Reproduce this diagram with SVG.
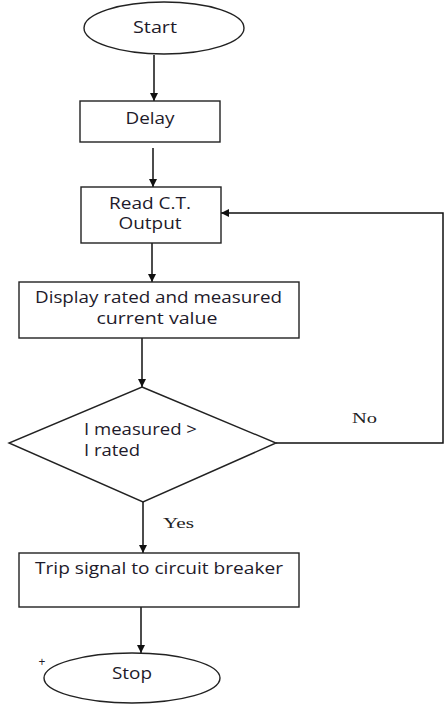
<svg xmlns="http://www.w3.org/2000/svg" width="447" height="704" viewBox="0 0 447 704">
<style>
.shape{fill:#fff;stroke:#222;stroke-width:1.4}
.conn{fill:none;stroke:#111;stroke-width:1.5}
.t{font-family:"Open Sans","Liberation Sans",sans-serif;font-size:16px;fill:#1e1a2a}
.s{font-family:"Liberation Serif",serif;font-size:15px;fill:#222}
</style>
<defs>
<marker id="ah" viewBox="0 0 10 10" refX="10" refY="5" markerWidth="8" markerHeight="8" markerUnits="userSpaceOnUse" orient="auto">
<path d="M0,0 L10,5 L0,10 z" fill="#111"/>
</marker>
</defs>
<rect width="447" height="704" fill="#fff"/>
<g id="connectors">
<line class="conn" x1="154" y1="55" x2="154" y2="101" marker-end="url(#ah)"/>
<line class="conn" x1="153" y1="148" x2="153" y2="187" marker-end="url(#ah)"/>
<line class="conn" x1="152" y1="243" x2="152" y2="282" marker-end="url(#ah)"/>
<line class="conn" x1="142" y1="338" x2="142" y2="387" marker-end="url(#ah)"/>
<line class="conn" x1="143" y1="502" x2="143" y2="553" marker-end="url(#ah)"/>
<line class="conn" x1="141" y1="607" x2="141" y2="653" marker-end="url(#ah)"/>
<polyline class="conn" points="276,443 443,443 443,213 221,213" marker-end="url(#ah)"/>
<text class="s" x="352" y="423" textLength="25" lengthAdjust="spacingAndGlyphs">No</text>
<text class="s" x="163" y="528" textLength="31" lengthAdjust="spacingAndGlyphs">Yes</text>
</g>
<g id="start">
<ellipse class="shape" cx="164" cy="28" rx="80" ry="26"/>
<text class="t" x="155" y="33" text-anchor="middle" textLength="44" lengthAdjust="spacingAndGlyphs">Start</text>
</g>
<g id="delay">
<rect class="shape" x="80" y="101" width="140" height="41"/>
<text class="t" x="150" y="124" text-anchor="middle" textLength="49" lengthAdjust="spacingAndGlyphs">Delay</text>
</g>
<g id="read">
<rect class="shape" x="81" y="187" width="140" height="56"/>
<text class="t" x="150" y="209" text-anchor="middle" textLength="82" lengthAdjust="spacingAndGlyphs">Read C.T.</text>
<text class="t" x="150" y="229" text-anchor="middle" textLength="63" lengthAdjust="spacingAndGlyphs">Output</text>
</g>
<g id="display">
<rect class="shape" x="19" y="282" width="280" height="56"/>
<text class="t" x="158.5" y="303" text-anchor="middle" textLength="247" lengthAdjust="spacingAndGlyphs">Display rated and measured</text>
<text class="t" x="157" y="324" text-anchor="middle" textLength="121" lengthAdjust="spacingAndGlyphs">current value</text>
</g>
<g id="decision">
<polygon class="shape" points="142,387 276,443 143,502 9,443"/>
<text class="t" x="84" y="435" textLength="113" lengthAdjust="spacingAndGlyphs">I measured &gt;</text>
<text class="t" x="84" y="456" textLength="56" lengthAdjust="spacingAndGlyphs">I rated</text>
</g>
<g id="trip">
<rect class="shape" x="19" y="553" width="280" height="54"/>
<text class="t" x="159" y="574" text-anchor="middle" textLength="248" lengthAdjust="spacingAndGlyphs">Trip signal to circuit breaker</text>
</g>
<g id="stop">
<ellipse class="shape" cx="132" cy="678" rx="88" ry="25"/>
<text class="t" x="132" y="679" text-anchor="middle" textLength="40" lengthAdjust="spacingAndGlyphs">Stop</text>
<text class="t" x="42" y="666" text-anchor="middle" style="font-size:12px">+</text>
</g>
</svg>
